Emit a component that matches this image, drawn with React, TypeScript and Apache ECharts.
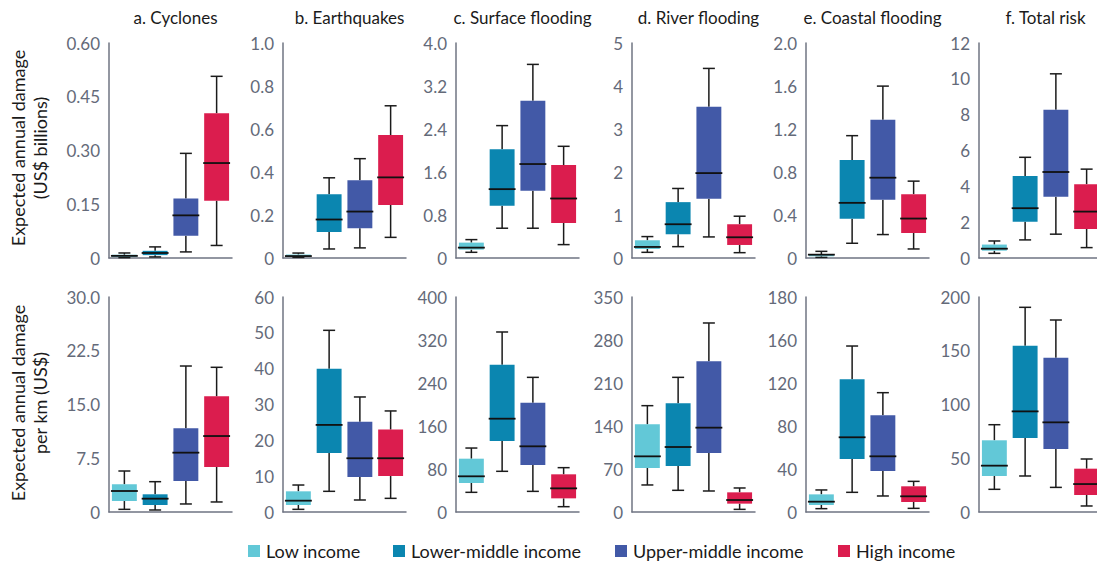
import React, { useEffect, useRef } from "react";
import * as echarts from "echarts";

const groups = ["Low income", "Lower-middle income", "Upper-middle income", "High income"];
const groupColors = ["#62c8d7", "#0b86b0", "#4259a7", "#db1d4e"];

const panelTitles = ["a. Cyclones", "b. Earthquakes", "c. Surface flooding", "d. River flooding", "e. Coastal flooding", "f. Total risk"];

const topAxisName = "Expected annual damage\n(US$ billions)";
const bottomAxisName = "Expected annual damage\nper km (US$)";

// each row: [min, q1, median, q3, max] for Low, Lower-middle, Upper-middle, High
const topCyclones = [[0.001, 0.003, 0.006, 0.009, 0.014], [0.003, 0.008, 0.014, 0.020, 0.031], [0.017, 0.062, 0.119, 0.166, 0.292], [0.035, 0.160, 0.265, 0.404, 0.507]];
const topEarthquakes = [[0.003, 0.005, 0.009, 0.016, 0.023], [0.042, 0.121, 0.179, 0.297, 0.373], [0.047, 0.138, 0.216, 0.362, 0.462], [0.096, 0.247, 0.375, 0.572, 0.708]];
const topSurface = [[0.106, 0.156, 0.193, 0.286, 0.342], [0.554, 0.970, 1.281, 2.022, 2.463], [0.554, 1.250, 1.748, 2.924, 3.602], [0.249, 0.653, 1.107, 1.729, 2.078]];
const topRiver = [[0.132, 0.210, 0.257, 0.412, 0.498], [0.264, 0.552, 0.785, 1.299, 1.617], [0.490, 1.376, 1.975, 3.515, 4.409], [0.124, 0.303, 0.482, 0.785, 0.972]];
const topCoastal = [[0.006, 0.016, 0.031, 0.037, 0.062], [0.137, 0.364, 0.513, 0.911, 1.138], [0.218, 0.541, 0.747, 1.285, 1.599], [0.084, 0.233, 0.367, 0.594, 0.715]];
const topTotal = [[0.26, 0.41, 0.52, 0.75, 0.95], [1.01, 2.03, 2.78, 4.57, 5.62], [1.33, 3.42, 4.80, 8.27, 10.28], [0.58, 1.62, 2.59, 4.12, 4.96]];

const bottomCyclones = [[0.37, 1.53, 2.93, 3.86, 5.72], [0.28, 0.98, 1.86, 2.47, 4.23], [1.12, 4.33, 8.28, 11.67, 20.37], [1.40, 6.28, 10.6, 16.14, 20.19]];
const bottomEarthquakes = [[0.74, 1.95, 3.16, 5.77, 7.53], [5.77, 16.5, 24.3, 40.0, 50.7], [3.35, 9.77, 15.0, 25.2, 32.1], [3.81, 10.05, 15.0, 23.0, 28.2]];
const bottomSurface = [[36.6, 54.0, 66.4, 99.2, 119], [75.7, 132.1, 173.6, 274.1, 334.9], [38.4, 87.4, 122.2, 203.4, 250.5], [9.9, 25.4, 44.0, 70.1, 82.5]];
const bottomRiver = [[44.0, 71.6, 90.6, 142.7, 173.1], [35.3, 74.9, 105.8, 176.9, 219.2], [34.2, 96.0, 137.3, 245.3, 307.7], [4.3, 13.6, 19.5, 32.0, 39.1]];
const bottomCoastal = [[3.1, 6.5, 9.6, 16.4, 20.5], [18.3, 49.3, 69.5, 123.4, 154.4], [14.9, 38.1, 51.8, 89.9, 111.0], [3.4, 9.3, 14.6, 23.9, 28.5]];
const bottomTotal = [[21.1, 33.5, 43.1, 66.7, 81.2], [33.5, 68.8, 93.6, 154.7, 190.4], [22.9, 58.6, 83.4, 143.6, 178.6], [5.6, 15.8, 26.0, 40.3, 49.3]];

const topMax = [0.6, 1.0, 4.0, 5, 2.0, 12];
const topInterval = [0.15, 0.2, 0.8, 1, 0.4, 2];
const topTickLabels = [
  ["0", "0.15", "0.30", "0.45", "0.60"],
  ["0", "0.2", "0.4", "0.6", "0.8", "1.0"],
  ["0", "0.8", "1.6", "2.4", "3.2", "4.0"],
  ["0", "1", "2", "3", "4", "5"],
  ["0", "0.4", "0.8", "1.2", "1.6", "2.0"],
  ["0", "2", "4", "6", "8", "10", "12"],
];
const bottomMax = [30, 60, 400, 350, 200, 200];
const bottomInterval = [7.5, 10, 80, 70, 40, 50];
const bottomTickLabels = [
  ["0", "7.5", "15.0", "22.5", "30.0"],
  ["0", "10", "20", "30", "40", "50", "60"],
  ["0", "80", "160", "240", "320", "400"],
  ["0", "70", "140", "210", "280", "350"],
  ["0", "40", "80", "120", "160", "180"],
  ["0", "50", "100", "150", "200"],
];

const topData = [topCyclones, topEarthquakes, topSurface, topRiver, topCoastal, topTotal];
const bottomData = [bottomCyclones, bottomEarthquakes, bottomSurface, bottomRiver, bottomCoastal, bottomTotal];

const FONT = "Lato, 'Open Sans', sans-serif";

export default function App() {
  const ref = useRef<HTMLDivElement>(null);
  useEffect(() => {
    if (!ref.current) return;
    const chart = echarts.init(ref.current, null, { renderer: "svg" });
    const lefts = [109, 283, 456, 632, 806, 979];
    const gridW = 123;
    const rows = [
      { top: 43, data: topData, max: topMax, interval: topInterval, labels: topTickLabels },
      { top: 297, data: bottomData, max: bottomMax, interval: bottomInterval, labels: bottomTickLabels },
    ];
    const grids: any[] = [];
    const xAxes: any[] = [];
    const yAxes: any[] = [];
    const series: any[] = [];
    rows.forEach((row, r) => {
      lefts.forEach((left, p) => {
        const idx = r * 6 + p;
        grids.push({ left, top: row.top, width: gridW, height: 215 });
        xAxes.push({
          type: "category",
          gridIndex: idx,
          data: groups,
          boundaryGap: true,
          axisLine: { show: true, lineStyle: { color: "#6f7482", width: 1.5 } },
          axisTick: { show: false },
          axisLabel: { show: false },
          splitLine: { show: false },
        });
        const labels = row.labels[p];
        const interval = row.interval[p];
        yAxes.push({
          type: "value",
          gridIndex: idx,
          min: 0,
          max: row.max[p],
          interval,
          axisLine: { show: true, lineStyle: { color: "#6f7482", width: 1.5 } },
          axisTick: { show: false },
          splitLine: { show: false },
          axisLabel: {
            color: "#646a79",
            fontSize: 17,
            fontFamily: FONT,
            margin: 9,
            formatter: (v: number) => labels[Math.round(v / interval)] ?? "",
          },
        });
        const d = row.data[p].map((q, i) => [i, ...q]);
        series.push({
          type: "custom",
          xAxisIndex: idx,
          yAxisIndex: idx,
          data: d,
          encode: { x: 0, y: [1, 2, 3, 4, 5] },
          renderItem: (params: any, api: any) => {
            const i = api.value(0);
            const pMin = api.coord([i, api.value(1)]);
            const pQ1 = api.coord([i, api.value(2)]);
            const pMed = api.coord([i, api.value(3)]);
            const pQ3 = api.coord([i, api.value(4)]);
            const pMax = api.coord([i, api.value(5)]);
            const x = pMin[0];
            const bw = api.size([1, 0])[0] * 0.81;
            const cw = 12;
            const ls = { stroke: "#1b1b1b", lineWidth: 1.5 };
            return {
              type: "group",
              children: [
                { type: "line", shape: { x1: x, y1: pMax[1], x2: x, y2: pQ3[1] }, style: ls },
                { type: "line", shape: { x1: x, y1: pQ1[1], x2: x, y2: pMin[1] }, style: ls },
                { type: "line", shape: { x1: x - cw / 2, y1: pMax[1], x2: x + cw / 2, y2: pMax[1] }, style: ls },
                { type: "line", shape: { x1: x - cw / 2, y1: pMin[1], x2: x + cw / 2, y2: pMin[1] }, style: ls },
                {
                  type: "rect",
                  shape: { x: x - bw / 2, y: pQ3[1], width: bw, height: Math.max(pQ1[1] - pQ3[1], 1) },
                  style: { fill: groupColors[i] },
                },
                { type: "line", shape: { x1: x - bw / 2 - 1, y1: pMed[1], x2: x + bw / 2 + 1, y2: pMed[1] }, style: { stroke: "#111", lineWidth: 1.8 } },
              ],
            };
          },
        });
      });
    });

    const titles = panelTitles.map((t, p) => ({
      text: t,
      left: lefts[p] + gridW / 2,
      top: 4,
      textAlign: "center",
      textStyle: { fontSize: 17, fontWeight: "normal", color: "#1a1a1a", fontFamily: FONT },
    }));

    const legendX = [248, 393, 615, 838];
    const graphic: any[] = [
      {
        type: "text",
        x: 29,
        y: 148,
        rotation: Math.PI / 2,
        style: { text: topAxisName, fontSize: 18, fontFamily: FONT, fill: "#1a1a1a", textAlign: "center", textVerticalAlign: "middle", lineHeight: 22 },
      },
      {
        type: "text",
        x: 29,
        y: 403,
        rotation: Math.PI / 2,
        style: { text: bottomAxisName, fontSize: 18, fontFamily: FONT, fill: "#1a1a1a", textAlign: "center", textVerticalAlign: "middle", lineHeight: 22 },
      },
    ];
    groups.forEach((g, i) => {
      graphic.push({ type: "rect", shape: { x: legendX[i], y: 545, width: 12, height: 12 }, style: { fill: groupColors[i] } });
      graphic.push({
        type: "text",
        x: legendX[i] + 18,
        y: 551,
        style: { text: g, fontSize: 18, fontFamily: FONT, fill: "#1a1a1a", textVerticalAlign: "middle" },
      });
    });

    chart.setOption({
      animation: false,
      backgroundColor: "#ffffff",
      title: titles,
      grid: grids,
      xAxis: xAxes,
      yAxis: yAxes,
      series,
      graphic,
    });
    return () => chart.dispose();
  }, []);
  return <div ref={ref} style={{ position: "fixed", left: 0, top: 0, width: 1110, height: 564, background: "#fff" }} />;
}
